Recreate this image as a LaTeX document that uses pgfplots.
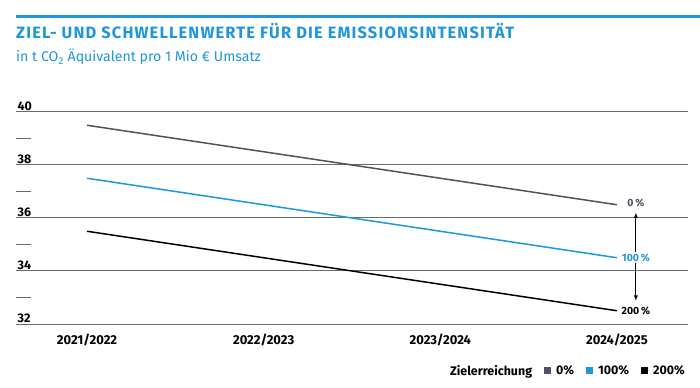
\documentclass[border=0pt]{standalone}
\usepackage{fontspec}
\setmainfont{Fira Sans}
\usepackage{pgfplots}
\pgfplotsset{compat=1.18}
\definecolor{tblue}{HTML}{1E96DC}
\definecolor{lgray}{HTML}{50505F}
\definecolor{gridc}{HTML}{6A6A6A}
\begin{document}
\begin{tikzpicture}
\useasboundingbox (0bp,0bp) rectangle (700bp,388bp);
\draw[tblue, line width=3bp] (16bp,371bp) -- (700bp,371bp);
\node[anchor=base west, inner sep=0, text=tblue, font=\fontsize{16.5}{19}\selectfont\bfseries\addfontfeature{LetterSpace=7}] at (16bp,349bp) {ZIEL- UND SCHWELLENWERTE FÜR DIE EMISSIONSINTENSITÄT};
\node[anchor=base west, inner sep=0, text=tblue, font=\fontsize{14.2}{17}\selectfont] at (16bp,326bp) {in t CO\textsubscript{2} Äquivalent pro 1 Mio € Umsatz};
\begin{axis}[
  at={(16bp,64bp)}, anchor=south west,
  scale only axis, width=672bp, height=212bp,
  xmin=-0.402, xmax=3.402, ymin=32, ymax=40,
  axis line style={draw=none},
  xtick={0,1,2,3},
  xticklabels={2021/2022,2022/2023,2023/2024,2024/2025},
  ytick={32,34,36,38,40},
  minor ytick={33,35,37,39},
  ymajorgrids,
  grid style={gridc, line width=1bp},
  major tick length=0pt,
  minor tick length=15bp,
  tick align=inside,
  ytick pos=left,
  minor tick style={gridc, line width=0.9bp},
  /pgf/number format/assume math mode=true,
  ticklabel style={font=\fontsize{12.5}{14}\selectfont\bfseries},
  xticklabel style={font=\fontsize{13}{15}\selectfont\bfseries, yshift=-6bp},
  yticklabel style={anchor=south west, inner sep=1.5bp},
  clip=false,
  legend style={at={(axis description cs:1.003,-0.222)}, anchor=east, draw=none, fill=none,
    font=\fontsize{12.5}{14}\selectfont\bfseries,
    /tikz/every even column/.append style={column sep=10bp},
    /tikz/every odd column/.append style={column sep=3bp}},
  legend columns=-1,
  legend image code/.code={\fill[#1, draw=none] (0bp,-3bp) rectangle (7bp,4bp);},
]
\addlegendimage{empty legend}
\addlegendentry{Zielerreichung}
\addplot[lgray, line width=1.5bp] coordinates {(0,39.5) (1,38.5) (2,37.5) (3,36.5)};
\addlegendentry{0\%}
\addplot[tblue, line width=1.5bp] coordinates {(0,37.5) (1,36.5) (2,35.5) (3,34.5)};
\addlegendentry{100\%}
\addplot[black, line width=1.5bp] coordinates {(0,35.5) (1,34.5) (2,33.5) (3,32.5)};
\addlegendentry{200\%}
\draw[<->, >=latex, black, line width=0.8bp] (axis cs:3.107,36.2) -- (axis cs:3.107,32.88);
\node[font=\fontsize{10.5}{12}\selectfont\bfseries, text=lgray] at (axis cs:3.107,36.55) {0\,\%};
\node[font=\fontsize{10.5}{12}\selectfont\bfseries, text=tblue, fill=white, inner sep=1.5bp] at (axis cs:3.107,34.5) {100\,\%};
\node[font=\fontsize{10.5}{12}\selectfont\bfseries, text=black, fill=white, inner sep=1.5bp] at (axis cs:3.107,32.48) {200\,\%};
\end{axis}
\end{tikzpicture}
\end{document}
